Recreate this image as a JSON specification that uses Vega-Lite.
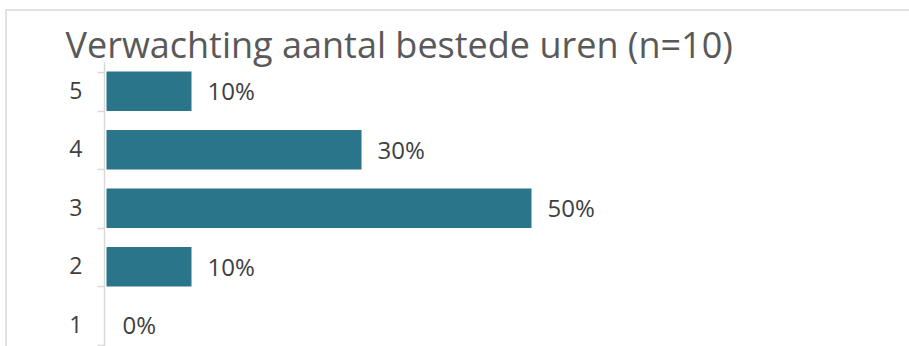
{
  "$schema": "https://vega.github.io/schema/vega-lite/v6.json",
  "autosize": "none",
  "padding": {"left": 6, "top": 10, "right": 0, "bottom": 0},
  "width": 1000,
  "height": 400,
  "background": "white",
  "config": {
    "view": {"stroke": "#d9d9d9", "strokeWidth": 1.5}
  },
  "data": {
    "values": [
      {"cat": "5", "pct": 0.1},
      {"cat": "4", "pct": 0.3},
      {"cat": "3", "pct": 0.5},
      {"cat": "2", "pct": 0.1},
      {"cat": "1", "pct": 0.0}
    ]
  },
  "encoding": {
    "y": {
      "field": "cat",
      "type": "nominal",
      "sort": ["5", "4", "3", "2", "1"],
      "scale": {"range": [52, 344.5], "paddingInner": 0.325, "paddingOuter": 0.1625},
      "axis": {
        "title": null,
        "offset": -98,
        "tickBand": "extent",
        "tickSize": 7,
        "tickColor": "#d9d9d9",
        "tickWidth": 1.5,
        "domainColor": "#d9d9d9",
        "domainWidth": 1.5,
        "labelFont": "Open Sans",
        "labelFontSize": 23,
        "labelColor": "#404040",
        "labelPadding": 15,
        "grid": false
      }
    },
    "x": {
      "field": "pct",
      "type": "quantitative",
      "scale": {"domain": [0, 1], "range": [100.5, 950.5]},
      "axis": {
        "orient": "top",
        "domain": false,
        "ticks": false,
        "labels": false,
        "grid": false,
        "title": "Verwachting aantal bestede uren (n=10)",
        "titleX": 59,
        "titleY": 47,
        "titleAngle": 0,
        "titleAlign": "left",
        "titleBaseline": "alphabetic",
        "titleFont": "Open Sans",
        "titleFontSize": 36,
        "titleFontWeight": "normal",
        "titleColor": "#595959"
      }
    }
  },
  "layer": [
    {"mark": {"type": "bar", "color": "#2a7589"}},
    {
      "mark": {
        "type": "text",
        "align": "left",
        "baseline": "middle",
        "dx": 16,
        "dy": 2,
        "font": "Open Sans",
        "fontSize": 24,
        "color": "#404040"
      },
      "encoding": {
        "text": {"field": "pct", "type": "quantitative", "format": ".0%"}
      }
    }
  ]
}
